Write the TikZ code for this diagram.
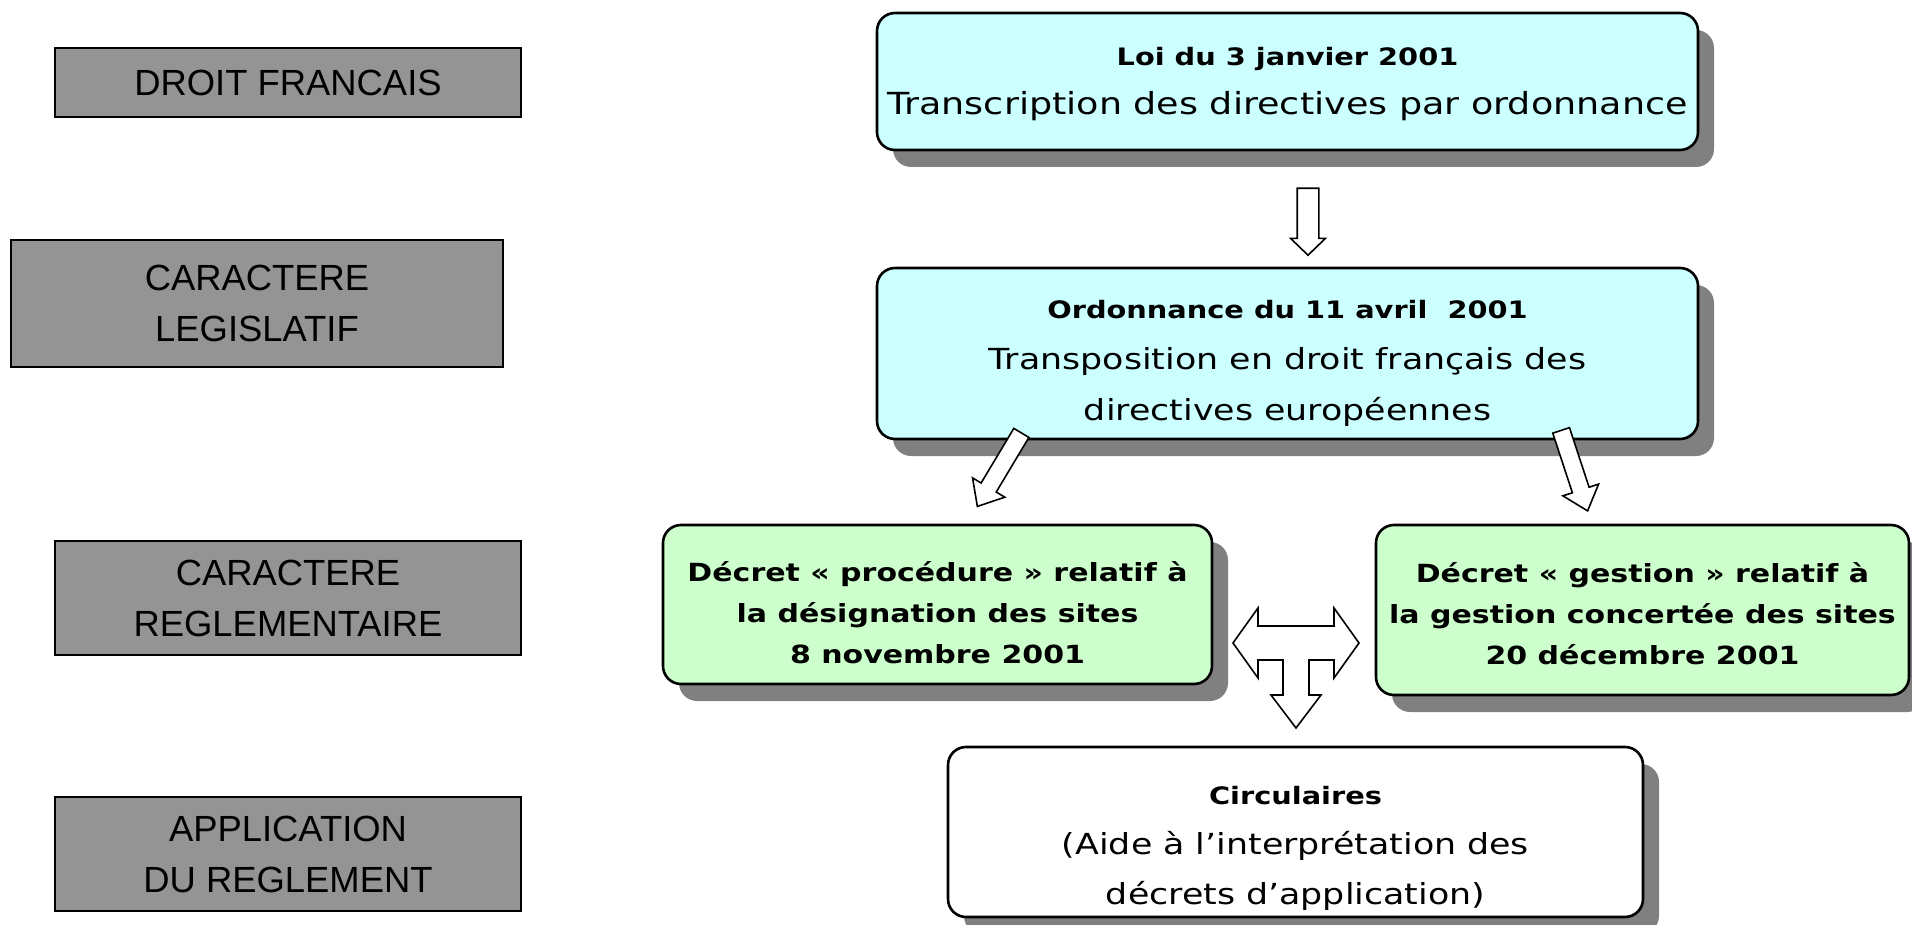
\documentclass[tikz,border=0pt]{standalone}
\usepackage{fontspec}
\setmainfont[FakeStretch=1.2]{DejaVu Sans}
\newfontfamily\levelfont{Liberation Sans}
\usetikzlibrary{calc,shapes.arrows,shadows}
\definecolor{loicyan}{HTML}{CCFFFF}
\definecolor{decretgreen}{HTML}{CCFFCC}
\definecolor{shadowgray}{HTML}{808080}
\definecolor{dotgray}{HTML}{949494}
\newcommand\boldline[1]{{\bfseries\fontsize{12}{25}\selectfont #1}}

\begin{document}
\begin{tikzpicture}[x=0.5pt, y=-0.5pt,
    levelbox/.style={draw, line width=0.6pt, fill=dotgray, align=center,
      inner sep=0pt, font=\levelfont\fontsize{18.2}{25.5}\selectfont},
    textbox/.style={draw, line width=1.3pt, rounded corners=9pt, inner sep=0pt,
      drop shadow={shadow xshift=8pt, shadow yshift=-8.5pt, opacity=1, fill=shadowgray}},
    boxtext/.style={align=center, inner sep=0pt, font=\fontsize{14.5}{25.5}\selectfont},
    decrettext/.style={align=center, inner sep=0pt, font=\bfseries\fontsize{12.5}{20.5}\selectfont},
    blockarrow/.style={single arrow, draw, fill=white, line width=0.8pt,
      sloped, allow upside down},
    tarrow/.style={draw, fill=white, line width=0.8pt, line join=miter}]
  \useasboundingbox (0,0) rectangle (1912,925);

  % Draw level boxes on the left
  \node[levelbox, minimum width=233pt, minimum height=34.5pt] (droit) at (288,82.5) {DROIT FRANCAIS};
  \node[levelbox, minimum width=246pt, minimum height=63.5pt] (legis) at (257,303.5) {CARACTERE\\LEGISLATIF};
  \node[levelbox, minimum width=233pt, minimum height=57pt] (regle) at (288,598) {CARACTERE\\REGLEMENTAIRE};
  \node[levelbox, minimum width=233pt, minimum height=57pt] (appli) at (288,854) {APPLICATION\\DU REGLEMENT};

  % Draw the law and the ordinance
  \node[textbox, fill=loicyan, minimum width=410.5pt, minimum height=68.5pt] (loi) at (1287.5,81.5) {};
  \node[boxtext, font=\fontsize{15.2}{24.5}\selectfont] (loiText) at ($(loi)+(0,3)$)
    {\boldline{Loi du 3 janvier 2001}\\Transcription des directives par ordonnance};
  \node[textbox, fill=loicyan, minimum width=410.5pt, minimum height=85.5pt] (ordo) at (1287.5,353.5) {};
  \node[boxtext] (ordoText) at ($(ordo)+(0,10)$)
    {\boldline{Ordonnance du 11 avril\ \ 2001}\\Transposition en droit français des\\directives européennes};

  % Draw the two decrees
  \node[textbox, fill=decretgreen, minimum width=274.5pt, minimum height=79.5pt] (proc) at (937.5,604.5) {};
  \node[decrettext] (procText) at ($(proc)+(0,8)$)
    {Décret « procédure » relatif à\\la désignation des sites\\8 novembre 2001};
  \node[textbox, fill=decretgreen, minimum width=266.5pt, minimum height=85pt] (gest) at (1642.5,610) {};
  \node[decrettext] (gestText) at ($(gest)+(0,4)$)
    {Décret « gestion » relatif à\\la gestion concertée des sites\\20 décembre 2001};

  % Draw the circulars
  \node[textbox, fill=white, minimum width=347.5pt, minimum height=85pt] (circ) at (1295.5,832) {};
  \node[boxtext, font=\fontsize{14.5}{25}\selectfont] (circText) at ($(circ)+(0,16)$)
    {\boldline{Circulaires}\\(Aide à l’interprétation des\\décrets d’application)};

  % Draw block arrows
  \coordinate (loiOut) at (1308,183);
  \coordinate (ordoIn) at (1308,250);
  \path let \p1=($(ordoIn)-(loiOut)$) in (loiOut) -- node[blockarrow, inner sep=5pt,
    single arrow head extend=3.3pt, single arrow tip angle=92, minimum height={veclen(\x1,\y1)}] {} (ordoIn);

  \coordinate (ordoLeft) at (1024,428.5);
  \coordinate (procIn) at (980,502);
  \path let \p1=($(procIn)-(ordoLeft)$) in (ordoLeft) -- node[blockarrow, inner sep=4pt,
    single arrow head extend=5pt, single arrow tip angle=81, minimum height={veclen(\x1,\y1)}] {} (procIn);

  \coordinate (ordoRight) at (1559.5,425.5);
  \coordinate (gestIn) at (1586,506);
  \path let \p1=($(gestIn)-(ordoRight)$) in (ordoRight) -- node[blockarrow, inner sep=4pt,
    single arrow head extend=5pt, single arrow tip angle=81, minimum height={veclen(\x1,\y1)}] {} (gestIn);

  % Draw the T arrow between the decrees
  \coordinate (tee) at (1296,643);
  \draw[tarrow] (tee) ++(-63,0) -- ++(25,-35) -- ++(0,18) -- ++(76,0) -- ++(0,-18)
    -- ++(25,35) -- ++(-25,35) -- ++(0,-18) -- ++(-25,0) -- ++(0,35) -- ++(12,0)
    -- ++(-25,33) -- ++(-25,-33) -- ++(12,0) -- ++(0,-35) -- ++(-25,0) -- ++(0,18) -- cycle;
\end{tikzpicture}
\end{document}
